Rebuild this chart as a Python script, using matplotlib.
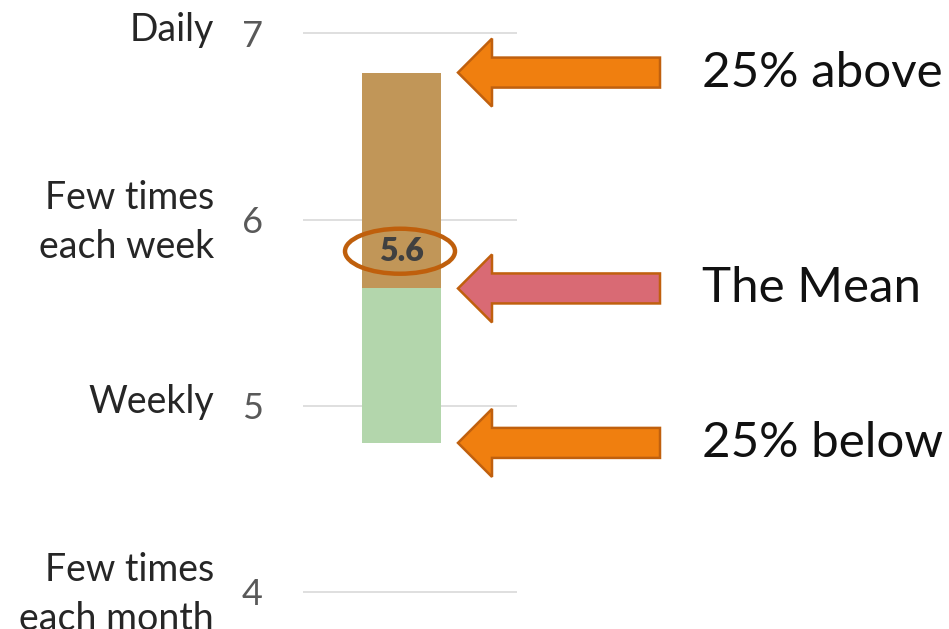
import matplotlib
matplotlib.use("Agg")
import matplotlib.pyplot as plt
from matplotlib.patches import Polygon, Ellipse
from matplotlib import transforms

# values
tick_values = [4, 5, 6, 7]
tick_labels = ["Few times\neach month", "Weekly", "Few times\neach week", "Daily"]
lower_quartile = 4.80
mean_value = 5.63
upper_quartile = 6.79
mean_label = "5.6"
arrow_texts = ["25% above", "The Mean", "25% below"]
arrow_values = [upper_quartile, mean_value, lower_quartile]
arrow_fills = ["#F07F0F", "#D96A74", "#F07F0F"]

plt.rcParams["font.family"] = ["Lato", "DejaVu Sans"]

W, H = 949, 629
fig = plt.figure(figsize=(W / 100, H / 100), dpi=100)

# main axes: narrow column holding the single stacked bar
ax = fig.add_axes([303 / W, 0, (517 - 303) / W, 1])
ax.set_ylim(3.80, 7.18)
ax.set_xlim(0, 1)

bar_x = 0.46
bar_w = 0.37
ax.bar(bar_x, mean_value - lower_quartile, bottom=lower_quartile, width=bar_w,
       color="#B3D6AC", zorder=2)
ax.bar(bar_x, upper_quartile - mean_value, bottom=mean_value, width=bar_w,
       color="#C19658", zorder=2)

for v in tick_values:
    ax.axhline(v, color="#D9D9D9", lw=1.2, zorder=1)

ax.set_yticks(tick_values)
ax.set_yticklabels([str(v) for v in tick_values], color="#595959", fontsize=26)
ax.tick_params(axis="y", length=0, pad=29)
ax.set_xticks([])
for s in ax.spines.values():
    s.set_visible(False)

# category names to the left of the numbers
trans = transforms.blended_transform_factory(fig.transFigure, ax.transData)
for v, lab in zip(tick_values, tick_labels):
    # two-line labels sit a little lower than single-line ones
    dy = -0.015 if "\n" in lab else 0.02
    ax.text(214 / W, v + dy, lab, transform=trans, ha="right", va="center",
            fontsize=27, color="#262626", linespacing=1.45, clip_on=False)

# mean label with ellipse
label_y = mean_value + 0.2
ax.text(bar_x, label_y, mean_label, ha="center", va="center",
        fontsize=23, fontweight="heavy", color="#404040", zorder=4)

# overlay in pixel coordinates for arrows and ellipse
ov = fig.add_axes([0, 0, 1, 1])
ov.set_xlim(0, W)
ov.set_ylim(H, 0)
ov.axis("off")
ov.patch.set_alpha(0)


def to_px(y):
    return H - ax.transData.transform((0, y))[1]


ey = to_px(label_y)
ov.add_patch(Ellipse((400, ey), 110, 45, fill=False, ec="#BF5F0C", lw=3.2))

for val, txt, fc in zip(arrow_values, arrow_texts, arrow_fills):
    yc = to_px(val)
    pts = [(458, yc), (492, yc - 34), (492, yc - 15), (660, yc - 15),
           (660, yc + 15), (492, yc + 15), (492, yc + 34)]
    ov.add_patch(Polygon(pts, closed=True, fc=fc, ec="#C0600E", lw=1.8,
                         joinstyle="miter"))
    ov.text(702, yc, txt, ha="left", va="center", fontsize=35.5, color="#111111")

fig.savefig("out.png", dpi=100)
